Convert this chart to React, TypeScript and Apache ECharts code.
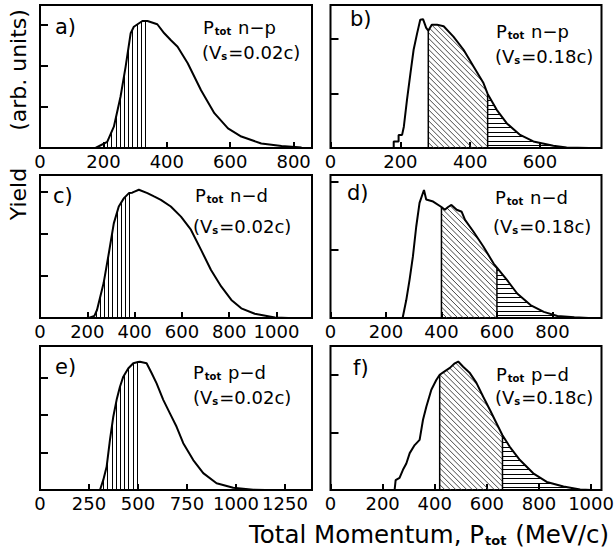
import React, { useEffect, useRef } from 'react';
import * as echarts from 'echarts';

const FONT = 'DejaVu Sans';

// a) P_tot n-p (Vs=0.02c)
const momA = [175, 212, 233, 254, 270, 286, 296, 323, 339, 370, 392, 413, 434, 466, 508, 550, 593, 635, 698, 762, 825];
const yieldA = [0, 0.15, 0.52, 1.25, 1.98, 2.8, 2.96, 3.1, 3.1, 3.02, 2.8, 2.63, 2.47, 2.07, 1.41, 0.85, 0.48, 0.28, 0.11, 0.05, 0.01];
const cutsA = [212, 335];
const ticksA = [0, 200, 400, 600, 800];

// b) P_tot n-p (Vs=0.18c)
const momB = [181, 181, 195, 195, 205, 210, 219, 229, 238, 248, 257, 265, 274, 280, 290, 305, 324, 352, 381, 410, 438, 450, 476, 505, 543, 581, 638, 676, 740];
const yieldB = [0, 0.12, 0.12, 0.24, 0.24, 0.39, 0.88, 1.37, 1.8, 2.1, 2.35, 2.36, 2.2, 2.15, 2.26, 2.26, 2.23, 2.04, 1.8, 1.49, 1.19, 0.99, 0.7, 0.45, 0.24, 0.12, 0.04, 0.01, 0];
const cutsB = [280, 450];
const ticksB = [0, 200, 400, 600];

// c) P_tot n-d (Vs=0.02c)
const momC = [206, 230, 241, 269, 291, 312, 333, 355, 376, 390, 397, 418, 454, 482, 511, 553, 596, 638, 681, 723, 766, 809, 851, 908, 993, 1050];
const yieldC = [0, 0.05, 0.19, 0.83, 1.54, 2.25, 2.65, 2.85, 2.97, 2.98, 3.0, 3.05, 2.97, 2.89, 2.81, 2.65, 2.41, 2.1, 1.62, 1.14, 0.75, 0.43, 0.23, 0.1, 0.01, 0];
const cutsC = [235, 390];
const ticksC = [0, 200, 400, 600, 800, 1000];

// d) P_tot n-d (Vs=0.18c)
const momD = [260, 273, 285, 297, 309, 321, 331, 337, 345, 370, 400, 412, 424, 436, 455, 473, 485, 515, 551, 588, 600, 636, 673, 721, 769, 818, 879, 930];
const yieldD = [0, 0.26, 0.56, 0.9, 1.34, 1.69, 1.81, 1.88, 1.74, 1.71, 1.63, 1.59, 1.63, 1.66, 1.59, 1.56, 1.44, 1.27, 1.05, 0.8, 0.74, 0.56, 0.36, 0.19, 0.09, 0.03, 0.01, 0];
const cutsD = [400, 600];
const ticksD = [0, 200, 400, 600, 800];

// e) P_tot p-d (Vs=0.02c)
const momE = [306, 323, 340, 357, 374, 391, 408, 425, 450, 476, 500, 510, 544, 570, 595, 629, 663, 697, 731, 782, 833, 901, 986, 1088, 1150];
const yieldE = [0, 0.27, 0.62, 1.34, 1.96, 2.41, 2.76, 3.03, 3.25, 3.39, 3.42, 3.43, 3.39, 3.12, 2.85, 2.41, 2.05, 1.69, 1.25, 0.8, 0.45, 0.18, 0.06, 0.01, 0];
const cutsE = [323, 500];
const ticksE = [0, 250, 500, 750, 1000, 1250];

// f) P_tot p-d (Vs=0.18c)
const momF = [246, 250, 265, 278, 291, 304, 323, 342, 355, 368, 387, 406, 419, 438, 458, 477, 490, 509, 535, 560, 586, 612, 637, 660, 688, 727, 778, 830, 894, 958, 1000];
const yieldF = [0, 0.17, 0.21, 0.35, 0.46, 0.64, 0.78, 0.87, 1.22, 1.45, 1.74, 1.91, 2.0, 2.06, 2.12, 2.2, 2.23, 2.14, 2.03, 1.86, 1.62, 1.39, 1.16, 0.95, 0.75, 0.52, 0.29, 0.14, 0.06, 0.01, 0];
const cutsF = [419, 660];
const ticksF = [0, 200, 400, 600, 800, 1000];

const letters = ['a)', 'b)', 'c)', 'd)', 'e)', 'f)'];
const pairs = ['n−p', 'n−p', 'n−d', 'n−d', 'p−d', 'p−d'];
const speeds = ['0.02c', '0.18c', '0.02c', '0.18c', '0.02c', '0.18c'];

type Panel = { mom: number[]; yld: number[]; cuts: number[]; ticks: number[]; xMax: number; yMax: number; slow: boolean };

const panels: Panel[] = [
  { mom: momA, yld: yieldA, cuts: cutsA, ticks: ticksA, xMax: 858, yMax: 3.49, slow: true },
  { mom: momB, yld: yieldB, cuts: cutsB, ticks: ticksB, xMax: 776, yMax: 2.62, slow: false },
  { mom: momC, yld: yieldC, cuts: cutsC, ticks: ticksC, xMax: 1150, yMax: 3.4, slow: true },
  { mom: momD, yld: yieldD, cuts: cutsD, ticks: ticksD, xMax: 977, yMax: 2.1, slow: false },
  { mom: momE, yld: yieldE, cuts: cutsE, ticks: ticksE, xMax: 1388, yMax: 3.85, slow: true },
  { mom: momF, yld: yieldF, cuts: cutsF, ticks: ticksF, xMax: 1040, yMax: 2.5, slow: false },
];

const boxes = [
  { left: 40, top: 5, width: 272, height: 143 },
  { left: 330.5, top: 5, width: 271, height: 143 },
  { left: 40, top: 175, width: 272, height: 143 },
  { left: 330.5, top: 175, width: 271, height: 143 },
  { left: 40, top: 346, width: 272, height: 144 },
  { left: 330.5, top: 346, width: 271, height: 144 },
];

const letterPos = [[55, 27], [350, 19], [53, 196], [347, 192.5], [55, 367], [353, 367.5]];
const line1Pos = [[203, 27], [496, 31], [195, 195], [495, 197], [193, 372], [496, 374]];
const line2Pos = [[202, 52.5], [495, 56.7], [193, 226], [493, 226], [193, 397], [495, 397]];

function hatchRenderer(mom: number[], yld: number[], x1: number, x2: number, kind: 'v' | 'd' | 'h', edges: boolean) {
  return (_params: any, api: any) => {
    const pts = mom.map((m, i) => api.coord([m, yld[i]]));
    const base = api.coord([0, 0])[1];
    const p1 = api.coord([x1, 0])[0];
    const p2 = api.coord([x2, 0])[0];
    const curveAt = (px: number) => {
      for (let i = 0; i < pts.length - 1; i++) {
        const ax = pts[i][0], ay = pts[i][1], bx = pts[i + 1][0], by = pts[i + 1][1];
        if (px >= ax && px <= bx) {
          if (bx === ax) return Math.min(ay, by);
          return ay + ((by - ay) * (px - ax)) / (bx - ax);
        }
      }
      return base;
    };
    const thin = { stroke: '#000', lineWidth: 1 };
    const diag = { stroke: '#333', lineWidth: 0.9 };
    const children: any[] = [];
    if (kind === 'v') {
      for (let px = p1; px <= p2 + 0.01; px += 4.2) {
        const x = Math.round(px) + 0.5;
        children.push({ type: 'line', shape: { x1: x, y1: base, x2: x, y2: curveAt(x) }, style: thin });
      }
    } else {
      let minY = base;
      for (let px = p1; px <= p2; px += 0.5) minY = Math.min(minY, curveAt(px));
      const slope = kind === 'd' ? 1 : 0;
      const gap = kind === 'd' ? 5.5 : 4.5;
      const st = kind === 'd' ? diag : thin;
      const cStart = kind === 'd' ? minY - p2 : minY;
      const cEnd = kind === 'd' ? base - p1 : base - 3;
      for (let c0 = cEnd; c0 >= cStart; c0 -= gap) {
        const c = kind === 'h' ? Math.round(c0) + 0.5 : c0;
        let runStart: number | null = null;
        for (let px = p1; px <= p2 + 0.001; px += 0.5) {
          const py = slope * px + c;
          const inside = py <= base && py >= curveAt(px);
          if (inside && runStart === null) runStart = px;
          const last = px + 0.5 > p2 + 0.001;
          if ((!inside || last) && runStart !== null) {
            const endX = inside ? px : px - 0.5;
            if (endX > runStart) {
              children.push({ type: 'line', shape: { x1: runStart, y1: slope * runStart + c, x2: endX, y2: slope * endX + c }, style: st });
            }
            runStart = null;
          }
        }
      }
    }
    if (edges) {
      [p1, p2].forEach((px) => {
        children.push({ type: 'line', shape: { x1: px, y1: base, x2: px, y2: curveAt(px) }, style: { stroke: '#000', lineWidth: 1.5 } });
      });
    }
    return { type: 'group', children };
  };
}

function buildOption() {
  const grid: any[] = [];
  const xAxis: any[] = [];
  const yAxis: any[] = [];
  const series: any[] = [];
  const graphic: any[] = [];

  panels.forEach((p, i) => {
    const b = boxes[i];
    grid.push({ ...b, show: true, borderColor: '#000', borderWidth: 2, containLabel: false, outerBoundsMode: 'none' });
    const step = p.ticks[1] - p.ticks[0];
    xAxis.push({
      gridIndex: i, type: 'value', min: 0, max: p.xMax, interval: step,
      axisLine: { show: false },
      axisTick: { inside: true, length: 6, lineStyle: { color: '#000', width: 2 } },
      axisLabel: {
        color: '#000', fontSize: 18, fontFamily: FONT, margin: 4, showMaxLabel: false,
        formatter: (v: number) => (p.ticks.indexOf(v) >= 0 ? String(v) : ''),
      },
      splitLine: { show: false },
    });
    yAxis.push({
      gridIndex: i, type: 'value', min: 0, max: p.yMax, interval: 1,
      axisLine: { show: false },
      axisTick: { inside: true, length: 8, lineStyle: { color: '#000', width: 2 } },
      axisLabel: { show: false },
      splitLine: { show: false },
    });
    const lastMom = p.mom[p.mom.length - 1];
    if (p.slow) {
      series.push({ type: 'custom', xAxisIndex: i, yAxisIndex: i, data: [[p.cuts[0], 0]], silent: true, z: 1, renderItem: hatchRenderer(p.mom, p.yld, p.cuts[0], p.cuts[1], 'v', false) });
    } else {
      series.push({ type: 'custom', xAxisIndex: i, yAxisIndex: i, data: [[p.cuts[0], 0]], silent: true, z: 1, renderItem: hatchRenderer(p.mom, p.yld, p.cuts[0], p.cuts[1], 'd', true) });
      series.push({ type: 'custom', xAxisIndex: i, yAxisIndex: i, data: [[p.cuts[1], 0]], silent: true, z: 1, renderItem: hatchRenderer(p.mom, p.yld, p.cuts[1], lastMom, 'h', false) });
    }
    series.push({
      type: 'line', xAxisIndex: i, yAxisIndex: i, data: p.mom.map((m, k) => [m, p.yld[k]]),
      showSymbol: false, symbol: 'none', silent: true, z: 3,
      lineStyle: { color: '#000', width: 2 },
    });

    graphic.push({ type: 'text', x: letterPos[i][0], y: letterPos[i][1], silent: true,
      style: { text: letters[i], fill: '#000', fontSize: 21, fontFamily: FONT, textAlign: 'left', textVerticalAlign: 'middle', align: 'left', verticalAlign: 'middle' } });
    graphic.push({ type: 'text', x: line1Pos[i][0], y: line1Pos[i][1], silent: true,
      style: {
        text: `{p|P}{s|tot}{p| ${pairs[i]}}`, fill: '#000', fontFamily: FONT, fontSize: 18,
        textAlign: 'left', textVerticalAlign: 'middle', align: 'left', verticalAlign: 'middle',
        rich: {
          p: { fontSize: 18, fontFamily: FONT, fill: '#000' },
          s: { fontSize: 10, fontWeight: 'bold', fontFamily: FONT, fill: '#000', verticalAlign: 'bottom', padding: [0, 1, 0, 1] },
        },
      } });
    graphic.push({ type: 'text', x: line2Pos[i][0], y: line2Pos[i][1], silent: true,
      style: {
        text: `{p|(V}{s|s}{p|=${speeds[i]})}`, fill: '#000', fontFamily: FONT, fontSize: 18,
        textAlign: 'left', textVerticalAlign: 'middle', align: 'left', verticalAlign: 'middle',
        rich: {
          p: { fontSize: 18, fontFamily: FONT, fill: '#000' },
          s: { fontSize: 10, fontWeight: 'bold', fontFamily: FONT, fill: '#000', verticalAlign: 'bottom', padding: [0, 1, 0, 0] },
        },
      } });
  });

  graphic.push({ type: 'text', x: 18, y: 70, rotation: Math.PI / 2, silent: true,
    style: { text: '(arb. units)', fill: '#000', fontSize: 22, fontFamily: FONT, textAlign: 'center', textVerticalAlign: 'middle', align: 'center', verticalAlign: 'middle' } });
  graphic.push({ type: 'text', x: 18, y: 194, rotation: Math.PI / 2, silent: true,
    style: { text: 'Yield', fill: '#000', fontSize: 22, fontFamily: FONT, textAlign: 'center', textVerticalAlign: 'middle', align: 'center', verticalAlign: 'middle' } });
  graphic.push({ type: 'text', x: 429, y: 534, silent: true,
    style: {
      text: '{t|Total Momentum, P}{s|tot}{t| (MeV/c)}', fill: '#000', fontFamily: FONT, fontSize: 24,
      textAlign: 'center', textVerticalAlign: 'middle', align: 'center', verticalAlign: 'middle',
      rich: {
        t: { fontSize: 24.5, fontFamily: FONT, fill: '#000' },
        s: { fontSize: 13, fontWeight: 'bold', fontFamily: FONT, fill: '#000', verticalAlign: 'bottom', padding: [0, 1, 0, 1] },
      },
    } });

  return { animation: false, backgroundColor: '#fff', grid, xAxis, yAxis, series, graphic };
}

export default function App() {
  const ref = useRef<HTMLDivElement>(null);
  useEffect(() => {
    if (!ref.current) return;
    const chart = echarts.init(ref.current, undefined, { renderer: 'svg' });
    chart.setOption(buildOption() as any);
    return () => chart.dispose();
  }, []);
  return <div ref={ref} style={{ position: 'absolute', left: 0, top: 0, width: 616, height: 559 }} />;
}
